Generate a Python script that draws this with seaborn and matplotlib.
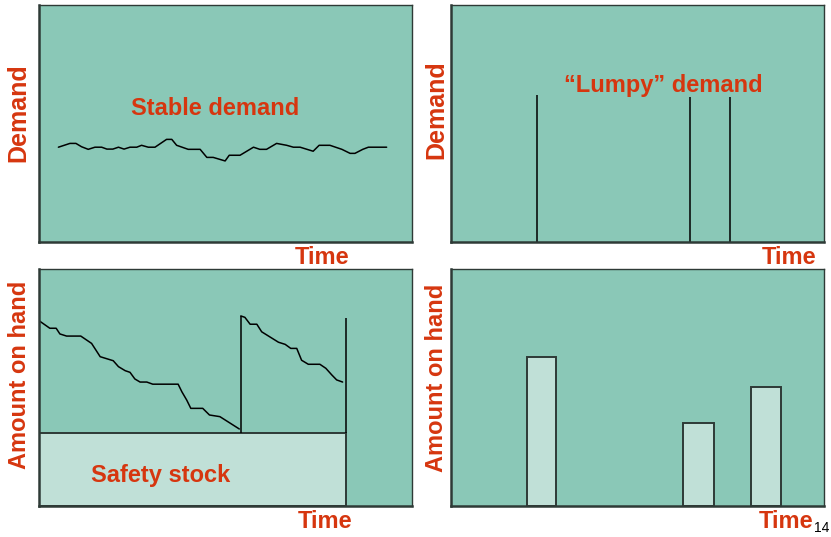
import numpy as np
import pandas as pd
import matplotlib
matplotlib.use('Agg')
import matplotlib.pyplot as plt
import seaborn as sns

# Four inventory / demand sketches (time axis 0-100, value axis 0-100)

# stable demand: small wiggles around 40
stable_t = [5.2, 8.3, 9.9, 11.4, 13.2, 15.0, 16.8, 18.2, 19.8, 21.3, 22.8, 24.4, 26.2, 27.5,
            29.3, 31.1, 34.2, 35.6, 36.9, 40.0, 43.2, 45.0, 46.7, 49.9, 51.0, 53.9, 57.5,
            59.2, 61.0, 63.7, 66.4, 68.2, 70.0, 73.5, 75.1, 78.0, 81.2, 83.4, 84.7, 86.8,
            88.3, 93.2]
stable_y = [40.0, 41.6, 41.6, 40.2, 39.1, 40.0, 40.0, 39.2, 39.2, 40.0, 39.2, 40.0, 40.0, 40.8,
            40.0, 40.0, 43.3, 43.3, 40.8, 39.1, 39.1, 35.7, 35.7, 34.2, 36.6, 36.6, 40.0,
            39.1, 39.1, 41.6, 40.8, 40.0, 40.0, 38.3, 40.8, 40.8, 39.1, 37.4, 37.4, 39.1,
            40.0, 40.0]

# lumpy demand: three spikes
lumpy_t = [23.0, 64.2, 74.9]
lumpy_y = [62.0, 61.2, 61.2]

# amount on hand with safety stock
cycle1_t = [0.0, 2.9, 4.6, 5.6, 7.4, 11.2, 14.1, 16.4, 19.9, 21.3, 23.1, 24.4, 25.7, 27.1,
            28.9, 30.5, 37.3, 38.3, 39.6, 40.7, 43.9, 45.7, 48.5, 53.7]
cycle1_y = [78.2, 75.0, 75.0, 72.6, 71.7, 71.7, 68.6, 63.0, 61.3, 58.8, 57.1, 56.4, 53.6, 52.3,
            52.3, 51.4, 51.4, 48.2, 44.7, 41.2, 41.2, 38.4, 37.7, 32.5]
cycle2_t = [54.1, 55.2, 56.6, 58.4, 59.7, 64.2, 66.0, 67.5, 69.1, 70.4, 72.2, 75.3, 76.9,
            78.5, 79.8, 81.4]
cycle2_y = [80.2, 79.6, 76.7, 76.7, 73.5, 69.1, 68.2, 66.5, 66.5, 61.5, 59.8, 59.8, 58.1,
            55.3, 53.2, 52.3]
restock_t = [54.1, 82.4]
restock_top = [80.2, 79.2]
safety_end = 82.2
safety_level = 30.7

# lumpy amount on hand: three bars
lumpy_bar_t = [24.2, 66.4, 84.5]
lumpy_bar_w = [7.9, 8.2, 8.2]
lumpy_bar_h = [62.7, 34.9, 50.1]

face = '#8AC8B7'
light = '#C0E0D7'
red = '#D6360F'
edge = '#2E3A36'

sns.set_style('white')
plt.rcParams['font.family'] = ['Liberation Sans', 'DejaVu Sans']

fig = plt.figure(figsize=(8.31, 5.37), dpi=100)
W, H = 831, 537
def make_ax(x0, y0, x1, y1):
    return fig.add_axes([x0 / W, 1 - y1 / H, (x1 - x0) / W, (y1 - y0) / H])

ax1 = make_ax(39, 5, 412, 242)
ax2 = make_ax(451, 5, 824, 242)
ax3 = make_ax(39, 269, 412, 506)
ax4 = make_ax(451, 269, 824, 506)

for ax in [ax1, ax2, ax3, ax4]:
    ax.set_facecolor(face)
    ax.set_xlim(0, 100)
    ax.set_ylim(0, 100)
    ax.set_xticks([])
    ax.set_yticks([])
    for s in ax.spines.values():
        s.set_color(edge)
        s.set_linewidth(1.0)
    ax.spines['left'].set_linewidth(1.8)
    ax.spines['bottom'].set_linewidth(1.8)

lab = dict(color=red, fontsize=17, fontweight='bold')

# top left
df1 = pd.DataFrame({'t': stable_t, 'y': stable_y})
sns.lineplot(data=df1, x='t', y='y', ax=ax1, color='black', linewidth=1.1,
             estimator=None, sort=False)
ax1.text(0.472, 0.565, 'Stable demand', transform=ax1.transAxes, ha='center', va='center', **lab)

# top right
ax2.vlines(lumpy_t, 0, lumpy_y, color='black', linewidth=1.1)
ax2.text(0.568, 0.662, '\u201cLumpy\u201d demand', transform=ax2.transAxes,
         ha='center', va='center', **lab)

# bottom left
ax3.bar([0], [safety_level], width=safety_end, align='edge', color=light,
        edgecolor=edge, linewidth=1.4, zorder=2)
df3a = pd.DataFrame({'t': cycle1_t, 'y': cycle1_y})
df3b = pd.DataFrame({'t': cycle2_t, 'y': cycle2_y})
sns.lineplot(data=df3a, x='t', y='y', ax=ax3, color='black', linewidth=1.1,
             estimator=None, sort=False)
sns.lineplot(data=df3b, x='t', y='y', ax=ax3, color='black', linewidth=1.1,
             estimator=None, sort=False)
ax3.vlines(restock_t, safety_level, restock_top, color='black', linewidth=1.1)
ax3.text(0.327, 0.127, 'Safety stock', transform=ax3.transAxes, ha='center', va='center', **lab)

# bottom right
ax4.bar(lumpy_bar_t, lumpy_bar_h, width=lumpy_bar_w, color=light, edgecolor=edge,
        linewidth=1.4, zorder=2)

for ax in [ax1, ax2, ax3, ax4]:
    ax.set_xlabel('')
    ax.set_ylabel('')

# axis words
ax1.text(0.759, -0.065, 'Time', transform=ax1.transAxes, ha='center', va='center', **lab)
ax2.text(0.906, -0.065, 'Time', transform=ax2.transAxes, ha='center', va='center', **lab)
ax3.text(0.767, -0.065, 'Time', transform=ax3.transAxes, ha='center', va='center', **lab)
ax4.text(0.898, -0.065, 'Time', transform=ax4.transAxes, ha='center', va='center', **lab)

lab_y = dict(lab, fontsize=18)
ax1.text(-0.056, 0.544, 'Demand', transform=ax1.transAxes, rotation=90,
         ha='center', va='center', **lab_y)
ax2.text(-0.040, 0.557, 'Demand', transform=ax2.transAxes, rotation=90,
         ha='center', va='center', **lab_y)
ax3.text(-0.053, 0.553, 'Amount on hand', transform=ax3.transAxes, rotation=90,
         ha='center', va='center', **lab)
ax4.text(-0.040, 0.54, 'Amount on hand', transform=ax4.transAxes, rotation=90,
         ha='center', va='center', **lab)

fig.text(822 / W, 1 - 528 / H, '14', color='black', fontsize=10, ha='center', va='center')

fig.savefig('out.png', dpi=100)
